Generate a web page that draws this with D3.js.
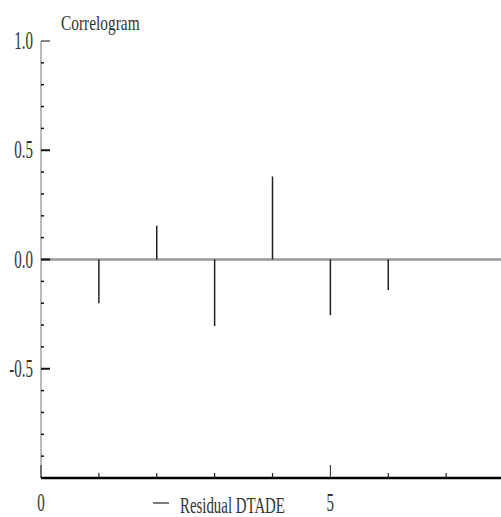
<!DOCTYPE html>
<html><head><meta charset="utf-8">
<script src="https://cdn.jsdelivr.net/npm/d3@7"></script>
<style>body{margin:0;background:#fff}svg{display:block}</style>
</head><body>
<script>
const lags = [1, 2, 3, 4, 5, 6];
const acf = [-0.20, 0.155, -0.305, 0.38, -0.255, -0.14];
const yMajor = [1.0, 0.5, 0.0, -0.5];
const yMinor = d3.range(-0.9, 1.0, 0.1).map(v => +v.toFixed(1)).filter(v => !yMajor.includes(v));
const xMajor = [0, 5];
const xMinor = [1, 2, 3, 4, 6, 7];
const seriesName = "Residual DTADE";
const title = "Correlogram";

const W = 501, H = 517;
const svg = d3.select("body").append("svg").attr("width", W).attr("height", H);
const x = d3.scaleLinear().domain([0, 8]).range([41, 504]);
const y = d3.scaleLinear().domain([-1, 1]).range([478, 41]);
const font = "'Liberation Serif', 'Times New Roman', serif";

function label(t, px, py, anchor, size, scale) {
  svg.append("text")
    .attr("transform", `translate(${px},${py}) scale(${scale},1)`)
    .attr("text-anchor", anchor)
    .attr("font-family", font).attr("font-size", size)
    .attr("fill", "#333").text(t);
}

// title
label(title, 61, 30, "start", 22, 0.7);

// zero line
svg.append("line").attr("x1", x(0)).attr("x2", W).attr("y1", y(0)).attr("y2", y(0))
  .attr("stroke", "#999").attr("stroke-width", 2.5);

// spikes
svg.append("g").selectAll("line").data(lags).join("line")
  .attr("x1", d => x(d)).attr("x2", d => x(d))
  .attr("y1", y(0)).attr("y2", (d, i) => y(acf[i]))
  .attr("stroke", "#222").attr("stroke-width", 1.5);

// y axis
svg.append("line").attr("x1", 41).attr("x2", 41).attr("y1", y(1)).attr("y2", y(-1))
  .attr("stroke", "#777").attr("stroke-width", 1);
svg.append("g").selectAll("line").data(yMajor).join("line")
  .attr("x1", 41).attr("x2", 50).attr("y1", d => y(d)).attr("y2", d => y(d))
  .attr("stroke", "#111").attr("stroke-width", d => d === 1 ? 1 : 2);
svg.append("g").selectAll("line").data(yMinor).join("line")
  .attr("x1", 41).attr("x2", 44).attr("y1", d => y(d)).attr("y2", d => y(d))
  .attr("stroke", "#111").attr("stroke-width", 1.5);
yMajor.forEach(v => label(d3.format(".1f")(v).replace("−", "-"), 33, y(v) + 8, "end", 25, 0.6));

// x axis
svg.append("line").attr("x1", 41).attr("x2", W).attr("y1", y(-1)).attr("y2", y(-1))
  .attr("stroke", "#000").attr("stroke-width", 2.5);
svg.append("g").selectAll("line").data(xMajor).join("line")
  .attr("x1", d => x(d)).attr("x2", d => x(d)).attr("y1", y(-1)).attr("y2", y(-1) - 13)
  .attr("stroke", "#222").attr("stroke-width", 1);
svg.append("g").selectAll("line").data(xMinor).join("line")
  .attr("x1", d => x(d)).attr("x2", d => x(d)).attr("y1", y(-1)).attr("y2", y(-1) - 5)
  .attr("stroke", "#222").attr("stroke-width", 1.2);
xMajor.forEach(v => label(String(v), x(v), 511, "middle", 25, 0.6));

// legend
svg.append("line").attr("x1", 153).attr("x2", 169).attr("y1", 503).attr("y2", 503)
  .attr("stroke", "#222").attr("stroke-width", 1.2);
label(seriesName, 180, 513, "start", 24, 0.62);
</script>
</body></html>
